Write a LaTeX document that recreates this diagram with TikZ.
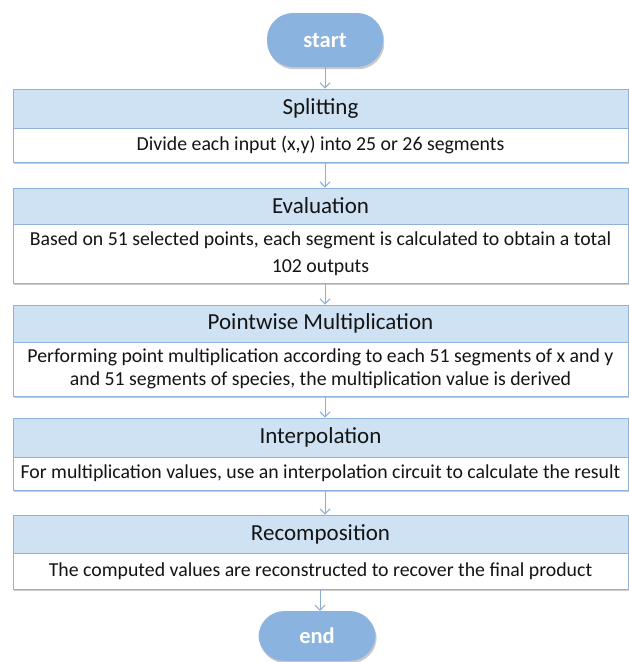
\documentclass[tikz,border=0pt]{standalone}
\usepackage{fontspec}
\setmainfont{Carlito}
\usetikzlibrary{shadows,arrows.meta}
\definecolor{hdrfill}{HTML}{CFE2F4}
\definecolor{edge}{HTML}{8FB4DB}
\definecolor{pill}{HTML}{8BB3E0}
\definecolor{arr}{HTML}{8AAED6}
\tikzset{
  shd/.style={drop shadow={shadow xshift=1.2pt,shadow yshift=-2.2pt,opacity=0.35,fill=black!60}},
  hdr/.style={draw=edge,line width=1pt,fill=hdrfill,minimum width=615pt,inner sep=0pt,
     font=\fontsize{23}{26}\selectfont,text=black!92},
  bdy/.style={draw=edge,line width=1pt,fill=white,minimum width=615pt,inner sep=0pt,
     font=\fontsize{19.8}{23}\selectfont,text=black!92,align=center},
  term/.style={draw=none,fill=pill,rounded corners=26pt,minimum width=116pt,
     text=white,font=\fontsize{22.5}{26}\selectfont\bfseries,shd},
  flow/.style={draw=arr,line width=1pt,-{Straight Barb[length=5pt,width=10pt]}}
}
\begin{document}
\begin{tikzpicture}[x=1pt,y=-1pt]
\useasboundingbox (0,0) rectangle (629,662);
% start
\node[term,minimum height=54pt] (start) at (325,40) {start};
% Splitting
\node[bdy,minimum height=34pt,shd] (b1) at (320.5,145) {Divide each input (x,y) into 25 or 26 segments};
\node[hdr,minimum height=39pt] (h1) at (320.5,108.5) {Splitting};
% Evaluation
\node[bdy,minimum height=59pt,shd] (b2) at (320.5,253.5) {Based on 51 selected points, each segment is calculated to obtain a total\\[4pt]102 outputs};
\node[hdr,minimum height=36pt] (h2) at (320.5,206) {Evaluation};
% Pointwise
\node[bdy,minimum height=54pt,shd] (b3) at (320.5,369) {Performing point multiplication according to each 51 segments of x and y\\and 51 segments of species, the multiplication value is derived};
\node[hdr,minimum height=37pt] (h3) at (320.5,323.5) {Pointwise Multiplication};
% Interpolation
\node[bdy,minimum height=33pt,shd] (b4) at (320.5,473.5) {For multiplication values, use an interpolation circuit to calculate the result};
\node[hdr,minimum height=39pt] (h4) at (320.5,437.5) {Interpolation};
% Recomposition
\node[bdy,minimum height=36pt,shd] (b5) at (320.5,571) {The computed values are reconstructed to recover the final product};
\node[hdr,minimum height=38pt] (h5) at (320.5,534) {Recomposition};
% end
\node[term,minimum height=50pt,minimum width=117pt] (end) at (317,636) {end};
% connectors
\draw[flow] (start.south) -- (start.south |- h1.north);
\draw[flow] (b1.south -| start.south) -- (start.south |- h2.north);
\draw[flow] (b2.south -| start.south) -- (start.south |- h3.north);
\draw[flow] (b3.south -| start.south) -- (start.south |- h4.north);
\draw[flow] (b4.south -| start.south) -- (start.south |- h5.north);
\coordinate (eb) at ([xshift=3pt]end.north);
\draw[flow] (b5.south -| eb) -- (eb);
\end{tikzpicture}
\end{document}
